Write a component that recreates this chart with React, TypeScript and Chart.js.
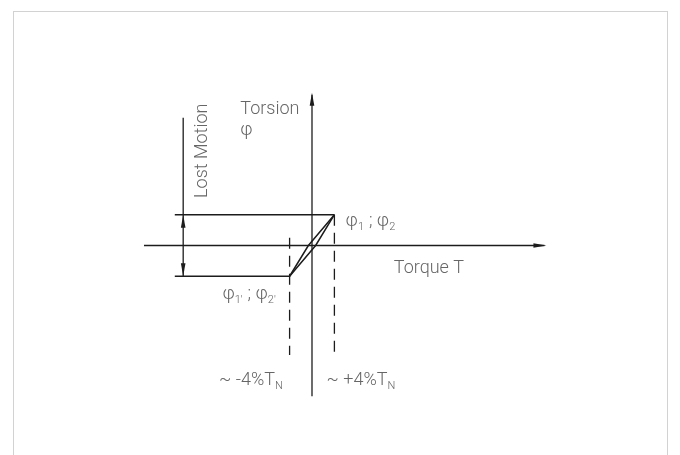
import React, { useEffect, useRef } from "react";
import { Chart, registerables } from "chart.js";

Chart.register(...registerables);

// ---- Data (torque in %T_N, torsion in relative units) ----
const torqueAxisRange = [-30, 41.5];
const torsionAxisRange = [-4.9, 4.9];
const torsionLevels = [1, -1]; // φ1;φ2 (upper) and φ1';φ2' (lower)
const torqueMarks = [-4, 4]; // ~ -4%T_N and ~ +4%T_N
const levelLineStart = -24.5;
const lostMotionX = -23;
const lostMotionTop = 4.15;
const dashedBottom = -3.56;
const dashedLeftTop = 0.25;
const lensOffset = 0.65;

const scaleX = { min: -55.71, max: 65.71 };
const scaleY = { min: -6.81, max: 7.98 };

const LINE = "#1c1c1c";
const TEXT = "#666666";
const FONT = "300 18px Roboto, 'Noto Sans', sans-serif";
const SUB = "300 11px Roboto, 'Noto Sans', sans-serif";

type Lbl = { x: number; y: number; parts: [string, boolean][]; rot?: boolean };
const labels: Lbl[] = [
  { x: -12.8, y: 4.47, parts: [["Torsion", false]] },
  { x: -12.8, y: 3.8, parts: [["φ", false]] },
  { x: -19.9, y: 3.08, parts: [["Lost Motion", false]], rot: true },
  { x: 6.0, y: 0.82, parts: [["φ", false], ["1", true], [" ; φ", false], ["2", true]] },
  { x: 14.6, y: -0.7, parts: [["Torque T", false]] },
  { x: -16.0, y: -1.55, parts: [["φ", false], ["1'", true], [" ; φ", false], ["2'", true]] },
  { x: -16.6, y: -4.35, parts: [["~ -4%T", false], ["N", true]] },
  { x: 2.6, y: -4.35, parts: [["~ +4%T", false], ["N", true]] },
];

const seg = (pts: { x: number; y: number }[], dash: number[] = [], width = 1.3) => ({
  data: pts,
  showLine: true,
  borderColor: LINE,
  borderWidth: width,
  borderDash: dash,
  pointRadius: 0,
  tension: 0,
  fill: false,
});

const diagramPlugin = {
  id: "diagram",
  afterDatasetsDraw(chart: any) {
    const { ctx, scales } = chart;
    const px = (v: number) => scales.x.getPixelForValue(v);
    const py = (v: number) => scales.y.getPixelForValue(v);
    ctx.save();
    const arrow = (x: number, y: number, dir: "up" | "down" | "right") => {
      const L = 13, W = 2.3;
      ctx.beginPath();
      if (dir === "up") {
        ctx.moveTo(x, y); ctx.lineTo(x - W, y + L); ctx.lineTo(x + W, y + L);
      } else if (dir === "down") {
        ctx.moveTo(x, y); ctx.lineTo(x - W, y - L); ctx.lineTo(x + W, y - L);
      } else {
        ctx.moveTo(x, y); ctx.lineTo(x - L, y - W); ctx.lineTo(x - L, y + W);
      }
      ctx.closePath();
      ctx.fillStyle = LINE;
      ctx.fill();
    };
    arrow(px(0), py(torsionAxisRange[1]) - 2, "up");
    arrow(px(torqueAxisRange[1]) + 2, py(0), "right");
    arrow(px(lostMotionX), py(torsionLevels[0]), "up");
    arrow(px(lostMotionX), py(torsionLevels[1]), "down");

    ctx.fillStyle = TEXT;
    ctx.textBaseline = "alphabetic";
    for (const l of labels) {
      ctx.save();
      ctx.translate(px(l.x), py(l.y));
      if (l.rot) {
        ctx.rotate(-Math.PI / 2);
        ctx.font = FONT;
        const w = ctx.measureText(l.parts[0][0]).width;
        ctx.fillText(l.parts[0][0], -w / 2, 6);
      } else {
        let cx = 0;
        for (const [t, sub] of l.parts) {
          ctx.font = sub ? SUB : FONT;
          ctx.fillText(t, cx, sub ? 10 : 6);
          cx += ctx.measureText(t).width + (sub ? 0.5 : 0);
        }
      }
      ctx.restore();
    }
    ctx.restore();
  },
};

export default function App() {
  const ref = useRef<HTMLCanvasElement>(null);
  useEffect(() => {
    if (!ref.current) return;
    const [up, lo] = torsionLevels;
    const [mL, mR] = torqueMarks;
    const chart = new Chart(ref.current, {
      type: "scatter",
      data: {
        datasets: [
          seg([{ x: torqueAxisRange[0], y: 0 }, { x: torqueAxisRange[1], y: 0 }]),
          seg([{ x: 0, y: torsionAxisRange[0] }, { x: 0, y: torsionAxisRange[1] }]),
          seg([{ x: levelLineStart, y: up }, { x: mR, y: up }]),
          seg([{ x: levelLineStart, y: lo }, { x: mL, y: lo }]),
          seg([{ x: lostMotionX, y: lo }, { x: lostMotionX, y: lostMotionTop }]),
          seg([{ x: mL, y: dashedLeftTop }, { x: mL, y: dashedBottom }], [11, 7]),
          seg([{ x: mR, y: up }, { x: mR, y: dashedBottom }], [11, 7]),
          seg([{ x: mL, y: lo }, { x: -lensOffset, y: 0 }, { x: mR, y: up }], [], 1.5),
          seg([{ x: mL, y: lo }, { x: lensOffset, y: 0 }, { x: mR, y: up }], [], 1.5),
        ],
      },
      options: {
        animation: false,
        responsive: false,
        maintainAspectRatio: false,
        layout: { padding: 0 },
        plugins: { legend: { display: false }, tooltip: { enabled: false } },
        scales: {
          x: { type: "linear", display: false, min: scaleX.min, max: scaleX.max },
          y: { type: "linear", display: false, min: scaleY.min, max: scaleY.max },
        },
      },
      plugins: [diagramPlugin],
    });
    return () => chart.destroy();
  }, []);

  return (
    <div style={{ position: "fixed", left: 0, top: 0, width: 680, height: 455, background: "#fff", overflow: "hidden" }}>
      <div
        style={{
          position: "absolute",
          left: 13,
          top: 11,
          width: 653,
          height: 470,
          border: "1px solid #d2d2d2",
        }}
      />
      <canvas ref={ref} width={680} height={455} style={{ position: "absolute", left: 0, top: 0 }} />
    </div>
  );
}
